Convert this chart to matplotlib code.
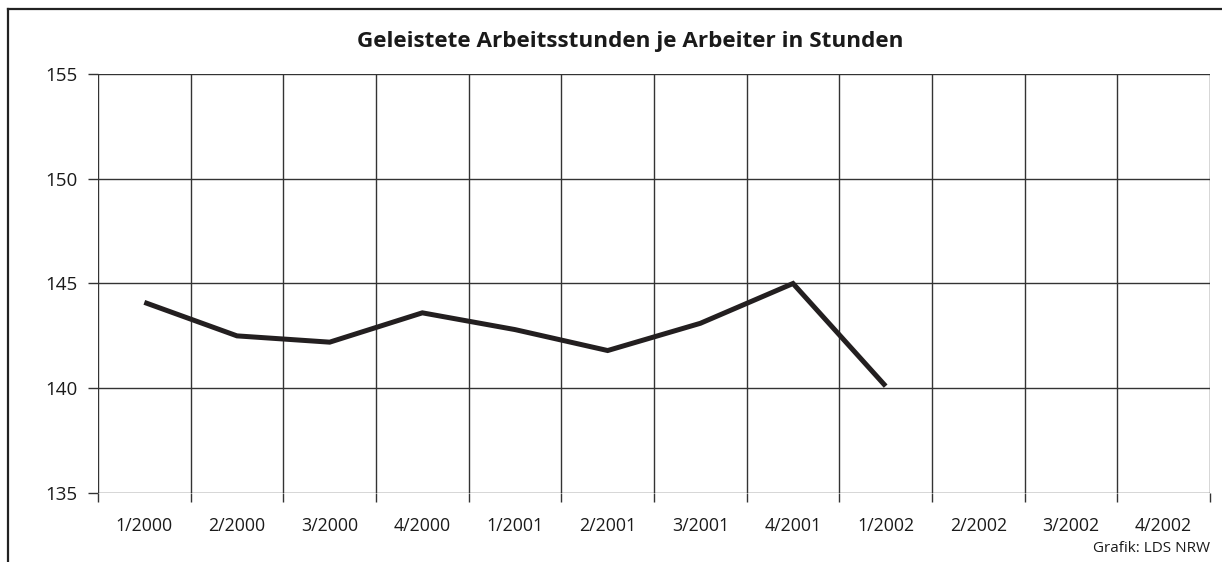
import matplotlib
matplotlib.use("Agg")
import matplotlib.pyplot as plt
from matplotlib.lines import Line2D
import numpy as np

categories = ["1/2000", "2/2000", "3/2000", "4/2000", "1/2001", "2/2001",
              "3/2001", "4/2001", "1/2002", "2/2002", "3/2002", "4/2002"]
values = [144.1, 142.5, 142.2, 143.6, 142.8, 141.8, 143.1, 145.0, 140.1]
yticks = [135, 140, 145, 150, 155]
title = "Geleistete Arbeitsstunden je Arbeiter in Stunden"
source = "Grafik: LDS NRW"

plt.rcParams['font.family'] = ['Open Sans', 'DejaVu Sans']

W, H = 1222, 562
fig = plt.figure(figsize=(W / 100, H / 100), dpi=100)
left, right, top, bottom = 98, 1210, 74, 493
ax = fig.add_axes([left / W, 1 - bottom / H, (right - left) / W, (bottom - top) / H])

n = len(categories)
x = np.arange(n)
ax.set_xlim(-0.5, n - 0.5)
ax.set_ylim(135, 155)

gc = '#333333'
# horizontal grid
ax.set_yticks(yticks)
ax.yaxis.grid(True, color=gc, linewidth=1.0)
# vertical grid at category boundaries
ax.set_xticks(x)
ax.set_xticklabels(categories, fontsize=12.8, color='#1a1a1a')
ax.set_xticks(np.arange(-0.5, n, 1.0), minor=True)
ax.xaxis.grid(True, which='minor', color=gc, linewidth=1.0)
ax.tick_params(axis='x', which='major', length=0, pad=17)
ax.tick_params(axis='x', which='minor', length=6.5, width=1.0, color=gc)
ax.tick_params(axis='y', which='major', length=7.5, width=1.0, color=gc,
               labelsize=13.5, labelcolor='#1a1a1a', pad=7)
for s in ax.spines.values():
    s.set_visible(False)
ax.set_axisbelow(True)

ax.plot(x[:len(values)], values, color='#231f20', linewidth=3.6,
        solid_joinstyle='miter', solid_capstyle='butt', zorder=3)

fig.text(630 / W, 1 - 42 / H, title, ha='center', va='center',
         fontsize=16.2, fontweight='bold', color='#1a1a1a')
fig.text(1210 / W, 1 - 549 / H, source, ha='right', va='center',
         fontsize=11, color='#1a1a1a')

# outer frame (top and left edges visible)
fig.add_artist(Line2D([8 / W, 1.0], [1 - 9 / H, 1 - 9 / H], color='#222222',
                      linewidth=1.6, transform=fig.transFigure))
fig.add_artist(Line2D([8 / W, 8 / W], [1 - 9 / H, 0.0], color='#222222',
                      linewidth=1.6, transform=fig.transFigure))

fig.savefig("out.png", dpi=100)
